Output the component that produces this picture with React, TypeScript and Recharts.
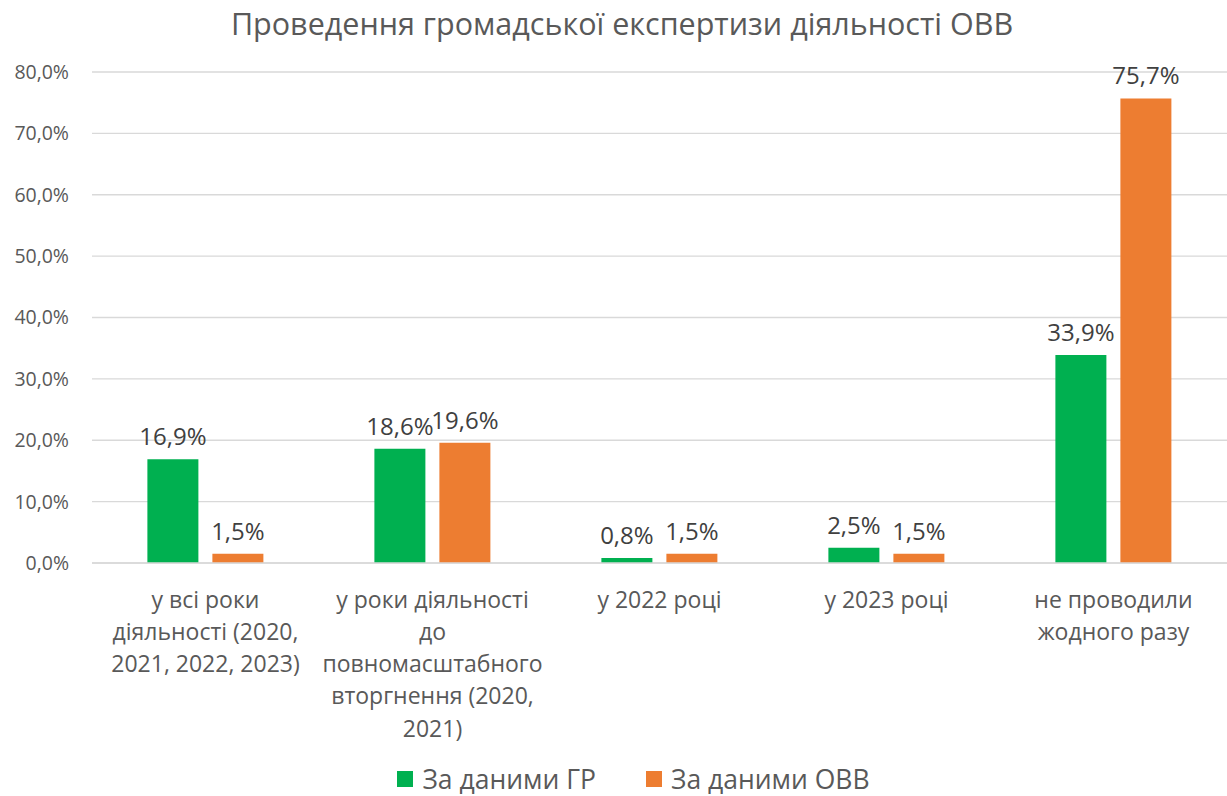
import { BarChart, Bar, XAxis, YAxis, CartesianGrid, Legend, LabelList } from 'recharts';

const categories = [
  'у всі роки діяльності (2020, 2021, 2022, 2023)',
  'у роки діяльності до повномасштабного вторгнення (2020, 2021)',
  'у 2022 році',
  'у 2023 році',
  'не проводили жодного разу',
];

// how each category label wraps in the picture
const categoryLines = [
  ['у всі роки', 'діяльності (2020,', '2021, 2022, 2023)'],
  ['у роки діяльності', 'до', 'повномасштабного', 'вторгнення (2020,', '2021)'],
  ['у 2022 році'],
  ['у 2023 році'],
  ['не проводили', 'жодного разу'],
];

const grValues = [16.9, 18.6, 0.8, 2.5, 33.9];
const ovvValues = [1.5, 19.6, 1.5, 1.5, 75.7];
const yTicks = [0, 10, 20, 30, 40, 50, 60, 70, 80];

const data = categories.map((name, i) => ({
  name,
  gr: grValues[i],
  ovv: ovvValues[i],
}));

const FONT = '"Open Sans", sans-serif';
const TEXT = '#595959';
const fmt = (v: number) => v.toFixed(1).replace('.', ',') + '%';

const CategoryTick = (props: any) => {
  const { x, y, index } = props;
  const lines = categoryLines[index] || [];
  return (
    <g transform={`translate(${x},${y})`}>
      <text textAnchor="middle" fill={TEXT} fontSize={23} fontFamily={FONT}>
        {lines.map((l, i) => (
          <tspan key={i} x={0} y={36.5 + i * 32.3}>
            {l}
          </tspan>
        ))}
      </text>
    </g>
  );
};

const LegendContent = (props: any) => {
  const items = props.payload || [];
  return (
    <div
      style={{
        height: 30,
        display: 'flex',
        justifyContent: 'center',
        alignItems: 'center',
        transform: 'translateX(20px)',
        fontFamily: FONT,
        fontSize: 26.5,
        color: TEXT,
      }}
    >
      {items.map((it: any, i: number) => (
        <div key={i} style={{ display: 'flex', alignItems: 'center', marginLeft: i ? 50 : 0 }}>
          <span style={{ width: 16, height: 16, background: it.color, marginRight: 9, display: 'inline-block' }} />
          <span>{it.value}</span>
        </div>
      ))}
    </div>
  );
};

export default function App() {
  return (
    <div style={{ position: 'absolute', left: 0, top: 0, width: 1227, height: 796, background: '#fff' }}>
      <div
        style={{
          position: 'absolute',
          top: 3,
          left: 0,
          width: 1244,
          textAlign: 'center',
          fontFamily: FONT,
          fontSize: 30.5,
          lineHeight: '40px',
          color: TEXT,
        }}
      >
        Проведення громадської експертизи діяльності ОВВ
      </div>
      <BarChart
        width={1227}
        height={796}
        data={data}
        margin={{ top: 72, right: 0, bottom: 173, left: 0 }}
        barCategoryGap="24.4%"
        barGap={14}
      >
        <CartesianGrid vertical={false} stroke="#d9d9d9" strokeWidth={1.3} />
        <XAxis
          dataKey="name"
          axisLine={{ stroke: '#d9d9d9', strokeWidth: 1.3 }}
          tickLine={false}
          interval={0}
          tick={<CategoryTick />}
        />
        <YAxis
          domain={[0, 80]}
          ticks={yTicks}
          width={92}
          axisLine={false}
          tickLine={false}
          tickMargin={17}
          tickFormatter={fmt}
          tick={{ fill: TEXT, fontSize: 19.5, fontFamily: FONT }}
        />
        <Legend
          verticalAlign="bottom"
          align="center"
          wrapperStyle={{ left: 0, width: 1227, bottom: 2 }}
          content={<LegendContent />}
        />
        <Bar dataKey="gr" name="За даними ГР" fill="#00b050" isAnimationActive={false}>
          <LabelList dataKey="gr" position="top" offset={14} formatter={fmt} fill="#404040" fontSize={24} fontFamily={FONT} />
        </Bar>
        <Bar dataKey="ovv" name="За даними ОВВ" fill="#ed7d31" isAnimationActive={false}>
          <LabelList dataKey="ovv" position="top" offset={14} formatter={fmt} fill="#404040" fontSize={24} fontFamily={FONT} />
        </Bar>
      </BarChart>
    </div>
  );
}
